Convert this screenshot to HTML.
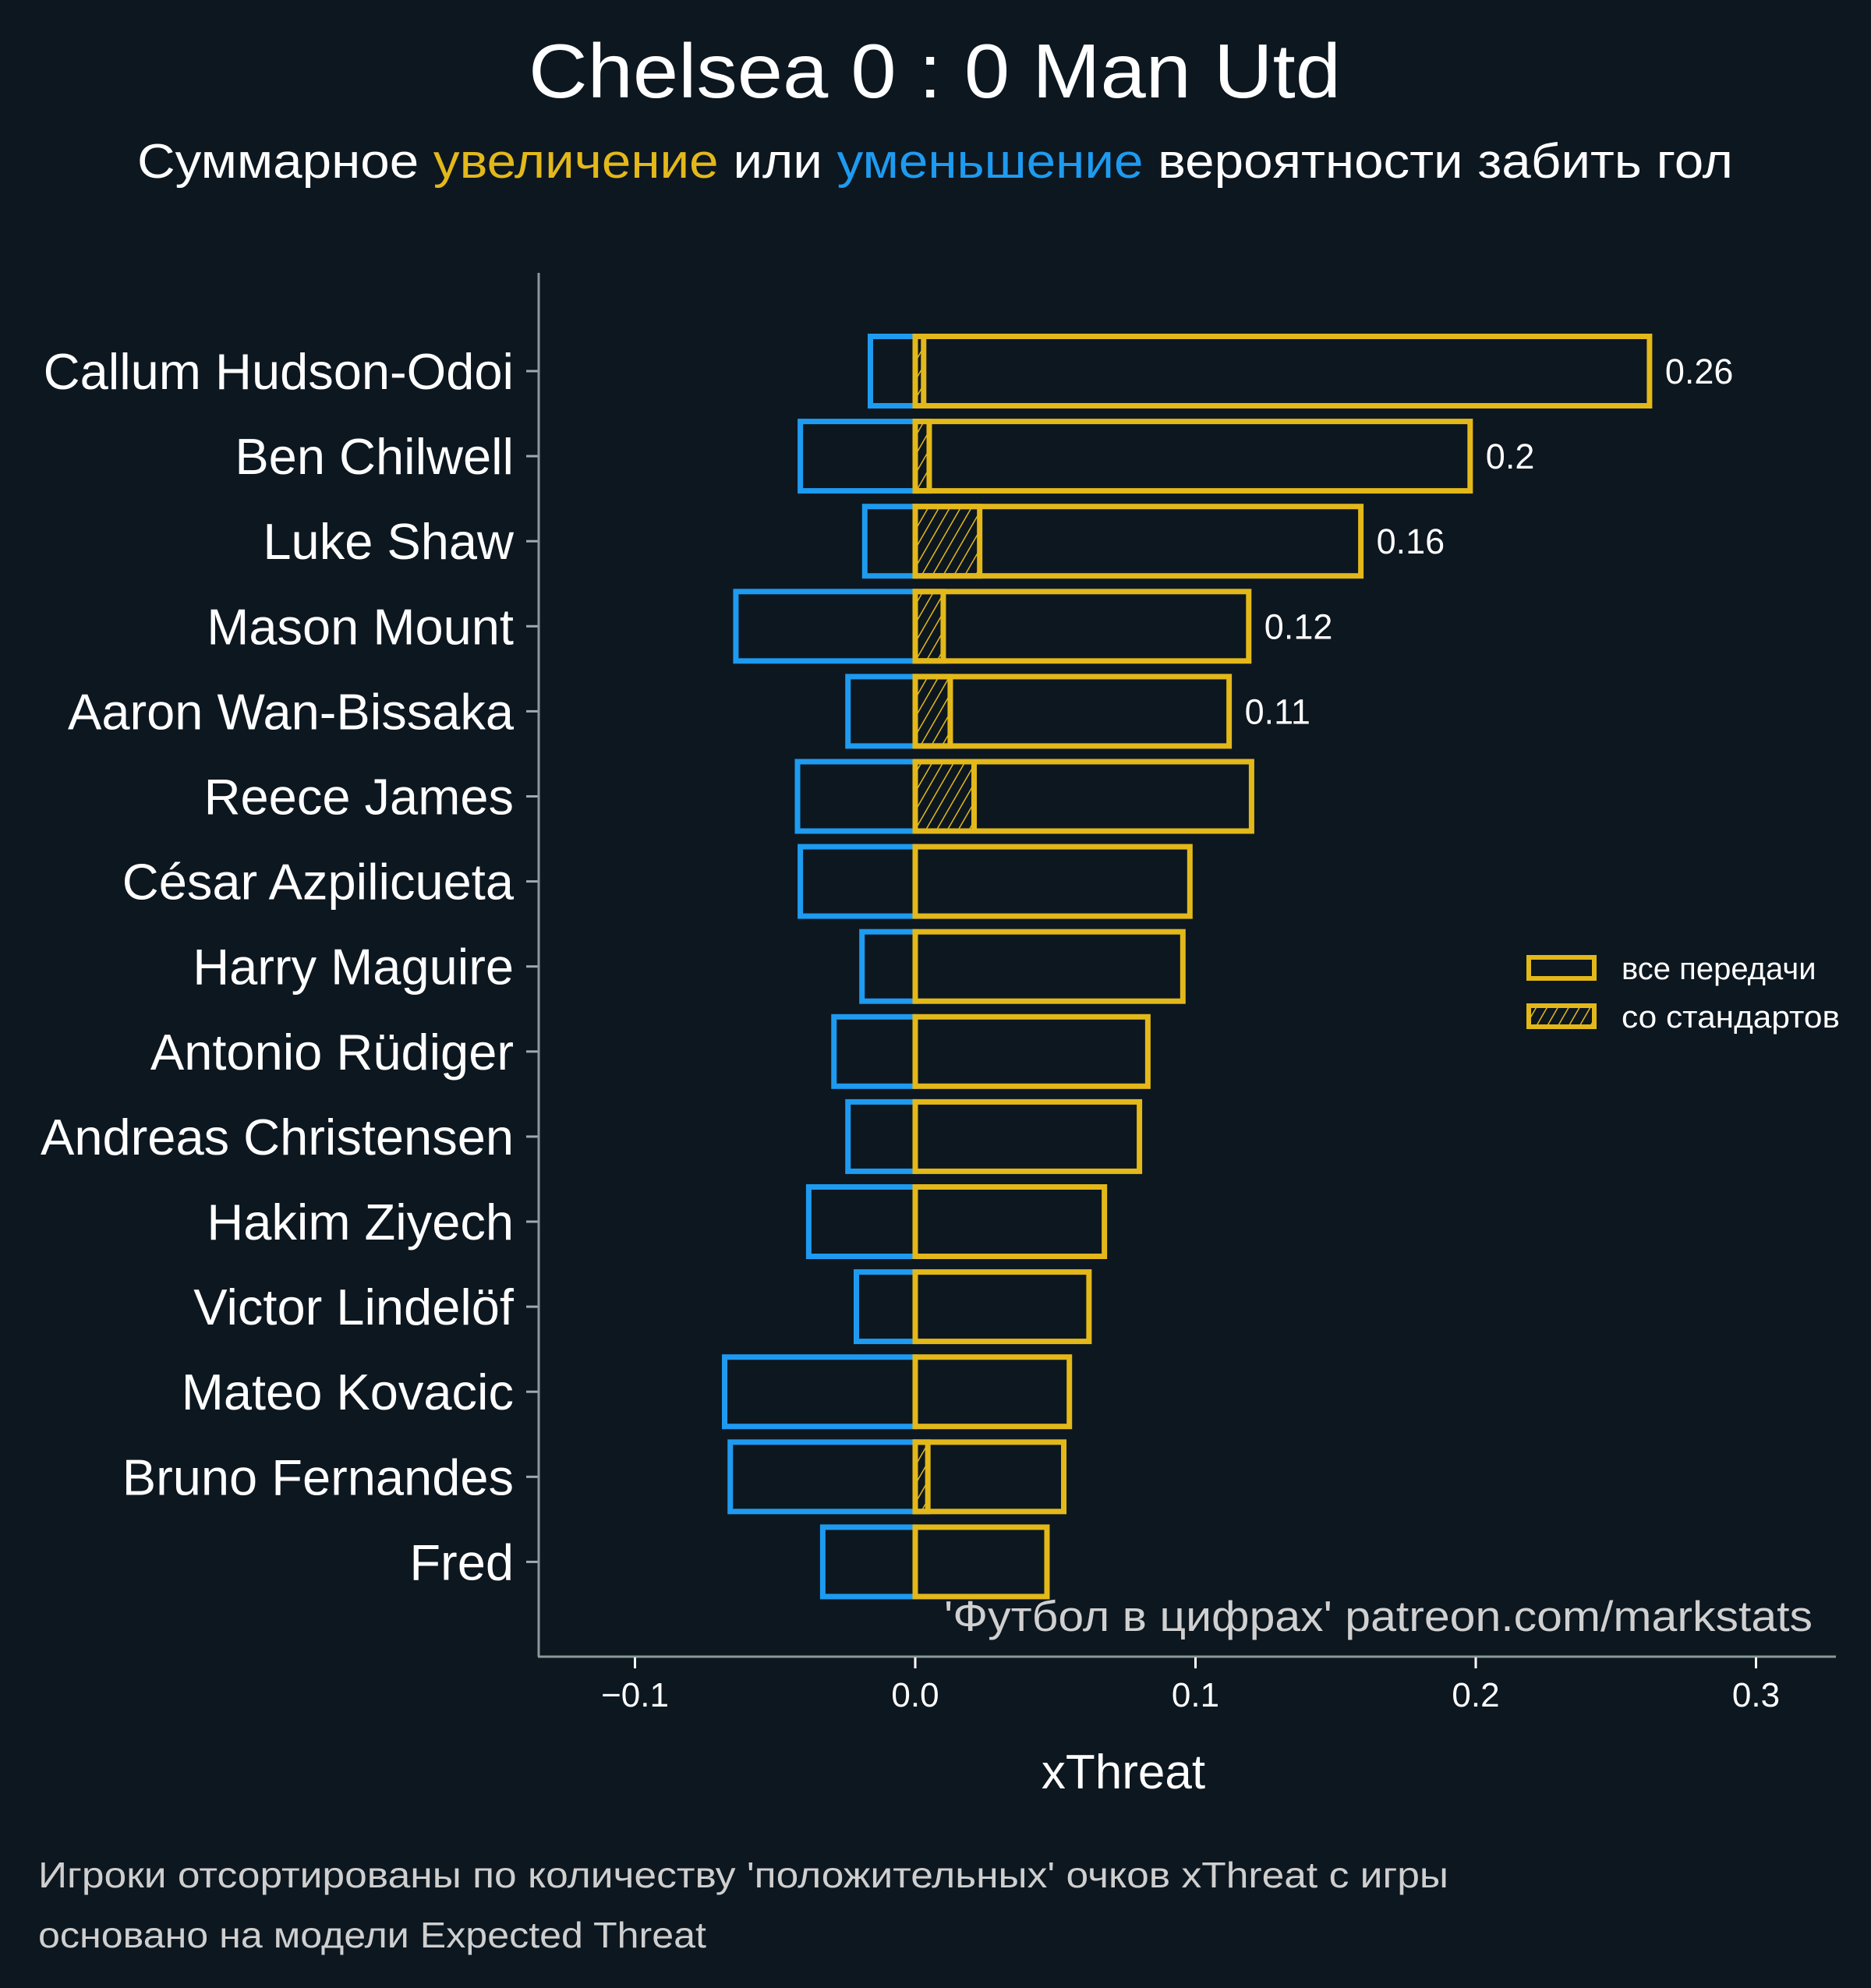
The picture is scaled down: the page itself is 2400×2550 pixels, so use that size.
<!DOCTYPE html>
<html><head><meta charset="utf-8"><style>
html,body{margin:0;padding:0;background:#0d1720;}
svg{display:block;font-family:"Liberation Sans","DejaVu Sans",sans-serif;}
</style></head><body>
<svg id="chart" width="2400" height="2550" viewBox="0 0 2400 2550" xmlns="http://www.w3.org/2000/svg">
<defs>
<pattern id="hatch" patternUnits="userSpaceOnUse" width="12" height="12" patternTransform="rotate(30)">
<line x1="0" y1="0" x2="0" y2="12" stroke="#e3b81a" stroke-width="3"/>
</pattern>
</defs>
<rect x="0" y="0" width="2400" height="2550" fill="#0d1720"/>
<text x="678" y="125" textLength="1042" lengthAdjust="spacingAndGlyphs" font-size="98" fill="#ffffff">Chelsea 0 : 0 Man Utd</text>
<text x="176" y="228" textLength="2047" lengthAdjust="spacingAndGlyphs" font-size="62" fill="#ffffff">Суммарное <tspan fill="#e3b81a">увеличение</tspan> или <tspan fill="#1e9bf0">уменьшение</tspan> вероятности забить гол</text>
<g id="bars"></g>
<g id="axes"></g>
<g>
<rect x="1961" y="1228" width="84" height="27" fill="none" stroke="#e3b81a" stroke-width="6"/>
<text x="2080" y="1256" font-size="40" fill="#ffffff">все передачи</text>
<rect x="1961" y="1290" width="84" height="27" fill="url(#hatch)" stroke="#e3b81a" stroke-width="6"/>
<text x="2080" y="1318" textLength="280" lengthAdjust="spacingAndGlyphs" font-size="40" fill="#ffffff">со стандартов</text>
</g>
<text x="1211" y="2092" textLength="1114" lengthAdjust="spacingAndGlyphs" font-size="55" fill="#d0d0d0">'Футбол в цифрах' patreon.com/markstats</text>
<text x="1441" y="2294" text-anchor="middle" font-size="62" fill="#ffffff">xThreat</text>
<text x="49" y="2421" textLength="1809" lengthAdjust="spacingAndGlyphs" font-size="46" fill="#cfcfcf">Игроки отсортированы по количеству 'положительных' очков xThreat с игры</text>
<text x="49" y="2498" textLength="857" lengthAdjust="spacingAndGlyphs" font-size="46" fill="#cfcfcf">основано на модели Expected Threat</text>
</svg>
<script>
const players = ["Callum Hudson-Odoi","Ben Chilwell","Luke Shaw","Mason Mount","Aaron Wan-Bissaka","Reece James","César Azpilicueta","Harry Maguire","Antonio Rüdiger","Andreas Christensen","Hakim Ziyech","Victor Lindelöf","Mateo Kovacic","Bruno Fernandes","Fred"];
const positiveValues = [0.262,0.198,0.159,0.119,0.112,0.120,0.098,0.0955,0.083,0.080,0.0675,0.062,0.055,0.053,0.047];
const negativeValues = [-0.016,-0.041,-0.018,-0.064,-0.024,-0.042,-0.041,-0.019,-0.029,-0.024,-0.038,-0.021,-0.068,-0.066,-0.033];
const setPieceValues = [0.003,0.005,0.023,0.010,0.0125,0.021,0,0,0,0,0,0,0,0.0045,0];
const valueLabels = ["0.26","0.2","0.16","0.12","0.11","","","","","","","","","",""];
const xTicks = [-0.1,0,0.1,0.2,0.3];
const xTickLabels = ["\u22120.1","0.0","0.1","0.2","0.3"];

const NS="http://www.w3.org/2000/svg";
const xScale = v => 1174 + v*3595;
const yCenter = i => 476 + i*109.1;
const barH = 89;
const bars=document.getElementById('bars');
const axes=document.getElementById('axes');
function mk(tag,attrs,parent){const e=document.createElementNS(NS,tag);for(const k in attrs)e.setAttribute(k,attrs[k]);parent.appendChild(e);return e;}

players.forEach((p,i)=>{
  const yc=yCenter(i), y=yc-barH/2;
  const n=negativeValues[i];
  const nb=mk('rect',{x:xScale(n),y:y,width:xScale(0)-xScale(n),height:barH,fill:'none',stroke:'#1e9bf0','stroke-width':7},bars);
  
  
  const pv=positiveValues[i];
  const pb=mk('rect',{x:xScale(0),y:y,width:xScale(pv)-xScale(0),height:barH,fill:'none',stroke:'#e3b81a','stroke-width':7},bars);
  
  
  const s=setPieceValues[i];
  if(s>0){
    const sb=mk('rect',{x:xScale(0),y:y,width:xScale(s)-xScale(0),height:barH,fill:'url(#hatch)',stroke:'#e3b81a','stroke-width':7},bars);
    
    
  }
  if(valueLabels[i]){
    const t=mk('text',{x:xScale(pv)+20,y:yc+16,'font-size':45,fill:'#ffffff'},bars);
    t.textContent=valueLabels[i];
    
    
  }
  const tk=mk('line',{x1:675,x2:691,y1:yc,y2:yc,stroke:'#a0aab0','stroke-width':3},axes);
  
  
  const lb=mk('text',{x:659,y:yc+23,'text-anchor':'end','font-size':65,fill:'#ffffff'},axes);
  lb.textContent=p;
  
  
});
const sp=mk('line',{x1:691,x2:691,y1:350,y2:2125,stroke:'#8a9a9a','stroke-width':3},axes);


const bx=mk('line',{x1:690,x2:2355,y1:2125,y2:2125,stroke:'#8a9a9a','stroke-width':3},axes);


xTicks.forEach((v,i)=>{
  const t=mk('line',{x1:xScale(v),x2:xScale(v),y1:2126,y2:2140,stroke:'#ffffff','stroke-width':3},axes);
  
  
  const l=mk('text',{x:xScale(v),y:2189,'text-anchor':'middle','font-size':44,fill:'#ffffff'},axes);
  l.textContent=xTickLabels[i];
  
  
});
</script>
</body></html>
